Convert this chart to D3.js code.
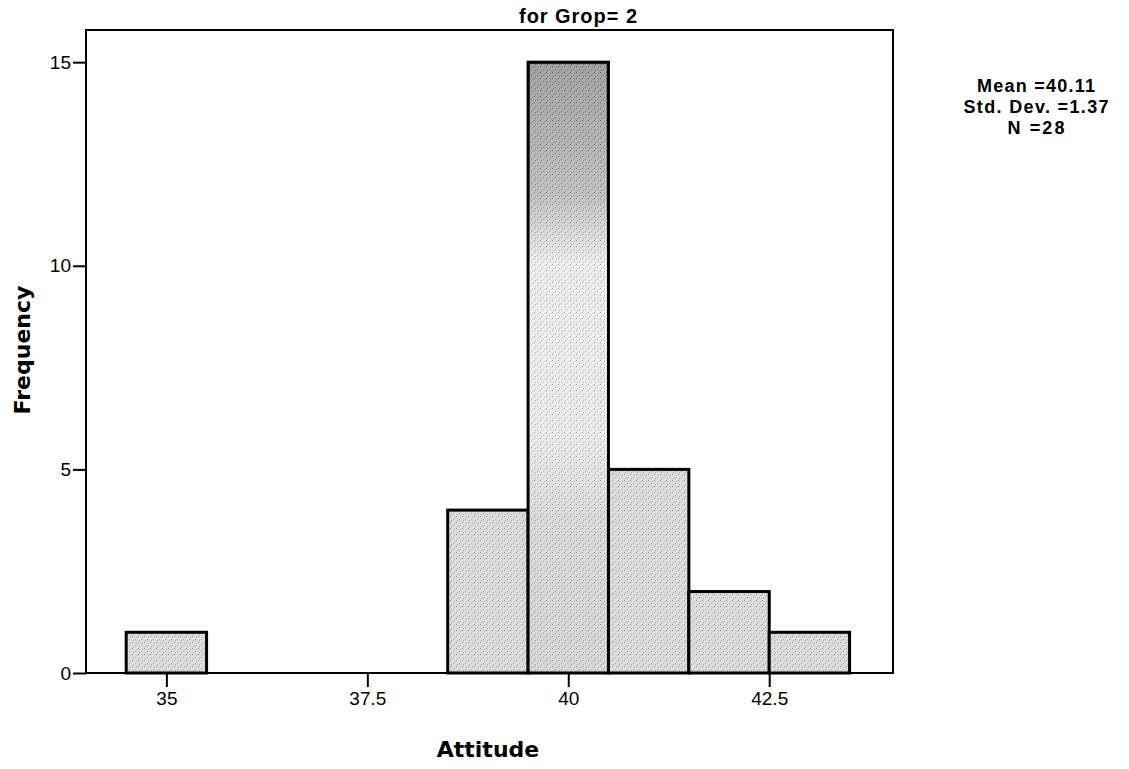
<!DOCTYPE html>
<html>
<head>
<meta charset="utf-8">
<script src="https://cdn.jsdelivr.net/npm/d3@7"></script>
<style>
  body { margin: 0; background: #fff; }
  svg { display: block; }
</style>
</head>
<body>
<div id="chart"></div>
<script>
// histogram data (bin centres and counts)
var binCenters = [35, 39, 40, 41, 42, 43];
var binCounts = [1, 4, 15, 5, 2, 1];
var xTicks = [35, 37.5, 40, 42.5];
var yTicks = [0, 5, 10, 15];
var statsLines = ["Mean =40.11", "Std. Dev. =1.37", "N =28"];

var W = 1129, H = 769;
var frame = {left: 86, right: 893, top: 30, bottom: 673};

var svg = d3.select("#chart")
  .append("svg")
  .attr("width", W)
  .attr("height", H);

// stipple pattern for the bars
var defs = svg.append("defs");
var pat = defs.append("pattern")
  .attr("id", "stip")
  .attr("width", 6)
  .attr("height", 6)
  .attr("patternUnits", "userSpaceOnUse");
pat.append("rect").attr("width", 6).attr("height", 6).attr("fill", "#e4e4e4");
pat.append("rect").attr("x", 0).attr("y", 0).attr("width", 1).attr("height", 1).attr("fill", "#555");
pat.append("rect").attr("x", 3).attr("y", 3).attr("width", 1).attr("height", 1).attr("fill", "#888");
pat.append("rect").attr("x", 4).attr("y", 1).attr("width", 1).attr("height", 1).attr("fill", "#999");
pat.append("rect").attr("x", 1).attr("y", 4).attr("width", 1).attr("height", 1).attr("fill", "#777");

var dark = defs.append("linearGradient")
  .attr("id", "bigbar")
  .attr("x1", 0).attr("y1", 0).attr("x2", 0).attr("y2", 1);
dark.append("stop").attr("offset", "0%").attr("stop-color", "#555");
dark.append("stop").attr("offset", "22%").attr("stop-color", "#9a9a9a");
dark.append("stop").attr("offset", "33%").attr("stop-color", "#fafafa");
dark.append("stop").attr("offset", "62%").attr("stop-color", "#f4f4f4");
dark.append("stop").attr("offset", "75%").attr("stop-color", "#cfcfcf");
dark.append("stop").attr("offset", "100%").attr("stop-color", "#c8c8c8");

var x = d3.scaleLinear()
  .domain([34, 44.04])
  .range([frame.left, frame.right]);

var y = d3.scaleLinear()
  .domain([0, 15.79])
  .range([frame.bottom, frame.top]);

// frame
svg.append("rect")
  .attr("x", frame.left)
  .attr("y", frame.top)
  .attr("width", frame.right - frame.left)
  .attr("height", frame.bottom - frame.top)
  .attr("fill", "none")
  .attr("stroke", "#000")
  .attr("stroke-width", 2);

// bars
svg.selectAll(".bar")
  .data(binCenters)
  .enter().append("rect")
  .attr("class", "bar")
  .attr("x", function(d) { return x(d - 0.5); })
  .attr("width", function(d) { return x(d + 0.5) - x(d - 0.5); })
  .attr("y", function(d, i) { return y(binCounts[i]); })
  .attr("height", function(d, i) { return y(0) - y(binCounts[i]); })
  .attr("fill", function(d, i) { return binCounts[i] === d3.max(binCounts) ? "url(#bigbar)" : "#d2d2d2"; })
  .attr("stroke", "#000")
  .attr("stroke-width", 3);

svg.selectAll(".tex")
  .data(binCenters)
  .enter().append("rect")
  .attr("class", "tex")
  .attr("x", function(d) { return x(d - 0.5) + 2; })
  .attr("width", function(d) { return x(d + 0.5) - x(d - 0.5) - 4; })
  .attr("y", function(d, i) { return y(binCounts[i]) + 2; })
  .attr("height", function(d, i) { return y(0) - y(binCounts[i]) - 4; })
  .attr("fill", "url(#stip)")
  .attr("opacity", 0.55);

// x axis
var xAxis = svg.append("g")
  .attr("transform", "translate(0," + frame.bottom + ")")
  .call(d3.axisBottom(x).tickValues(xTicks).tickSize(14).tickPadding(5)
    .tickFormat(function(d) { return d; }));
xAxis.select(".domain").remove();
xAxis.selectAll("line").attr("stroke", "#000").attr("stroke-width", 2);
xAxis.selectAll("text")
  .style("font-family", "Arial, 'Liberation Sans', sans-serif")
  .style("font-size", "19px")
  .attr("fill", "#000");

// y axis
var yAxis = svg.append("g")
  .attr("transform", "translate(" + frame.left + ",0)")
  .call(d3.axisLeft(y).tickValues(yTicks).tickSize(13).tickPadding(2));
yAxis.select(".domain").remove();
yAxis.selectAll("line").attr("stroke", "#000").attr("stroke-width", 2);
yAxis.selectAll("text")
  .style("font-family", "Arial, 'Liberation Sans', sans-serif")
  .style("font-size", "19px")
  .attr("fill", "#000");

// titles
svg.append("text")
  .attr("x", 578)
  .attr("y", 23)
  .attr("text-anchor", "middle")
  .style("font-family", "Arial, 'Liberation Sans', sans-serif")
  .style("font-size", "20px")
  .style("font-weight", "bold")
  .attr("textLength", 118)
  .text("for Grop= 2");

svg.append("text")
  .attr("x", 488)
  .attr("y", 757)
  .attr("text-anchor", "middle")
  .style("font-family", "Verdana, 'DejaVu Sans', sans-serif")
  .style("font-size", "22px")
  .style("font-weight", "bold")
  .text("Attitude");

svg.append("text")
  .attr("transform", "translate(30,350) rotate(-90)")
  .attr("text-anchor", "middle")
  .style("font-family", "Verdana, 'DejaVu Sans', sans-serif")
  .style("font-size", "22px")
  .style("font-weight", "bold")
  .text("Frequency");

// stats box
svg.selectAll(".stat")
  .data(statsLines)
  .enter().append("text")
  .attr("class", "stat")
  .attr("x", 1036)
  .attr("y", function(d, i) { return 92 + i * 21; })
  .attr("text-anchor", "middle")
  .style("font-family", "Arial, 'Liberation Sans', sans-serif")
  .style("font-size", "18px")
  .style("font-weight", "bold")
  .attr("textLength", function(d, i) { return [118, 145, 57][i]; })
  .text(function(d) { return d; });
</script>
</body>
</html>
